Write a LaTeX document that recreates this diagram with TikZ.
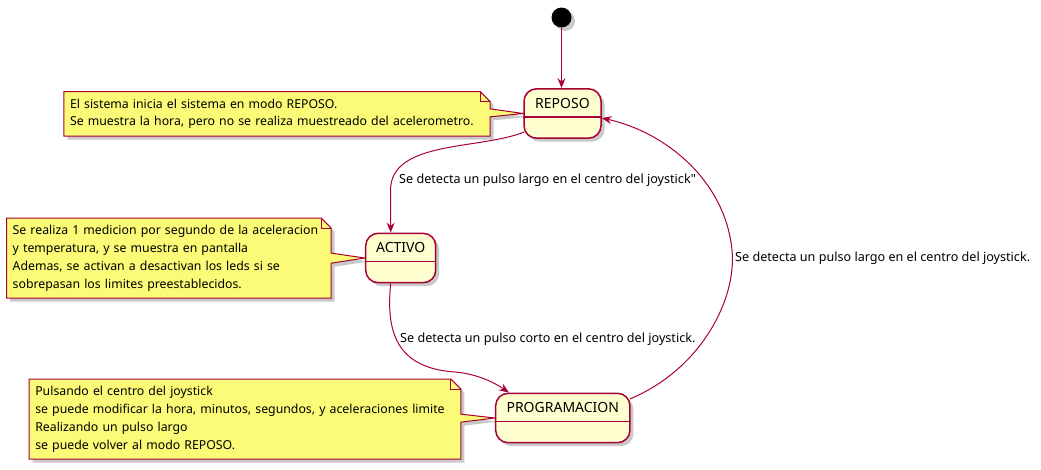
\documentclass[tikz,border=0pt]{standalone}
\usepackage{fontspec}
\setmainfont{Noto Sans}
\newfontfamily\rawqfont{Noto Sans}[Ligatures=TeXOff]
\usetikzlibrary{arrows.meta,shadows,calc}
\pgfdeclarelayer{bg}
\pgfsetlayers{bg,main}
\definecolor{edgecol}{HTML}{A80036}
\definecolor{statefill}{HTML}{FEFECE}
\definecolor{notefill}{HTML}{FBFB77}
\newcommand{\noteln}[1]{\mbox{#1}}
\begin{document}
\begin{tikzpicture}[x=1pt,y=-1pt,
  shad/.style={drop shadow={shadow xshift=3.5pt,shadow yshift=-3.5pt,opacity=0.3,fill=black!70}},
  state/.style={draw=edgecol,fill=statefill,line width=1.5pt,rounded corners=12.5pt,shad,
    minimum height=49.4pt,inner sep=0pt},
  statename/.style={font=\fontsize{14}{16}\selectfont,inner sep=0pt},
  divider/.style={draw=edgecol,line width=1.5pt},
  notetext/.style={font=\fontsize{12.3}{17.8}\selectfont,align=left,inner sep=0pt},
  noteshape/.style={draw=edgecol,fill=notefill,line width=1pt,shad,line join=miter},
  trans/.style={draw=edgecol,line width=1pt,-{Stealth[length=10pt,width=8pt,inset=3.5pt]}},
  edgelabel/.style={font=\fontsize{12.6}{16}\selectfont,inner sep=0pt,anchor=west,text height=9.5pt,text depth=3pt}
]
\useasboundingbox (0,0) rectangle (1041,469);

% initial state
\fill[black,shad] (561.5,17.5) circle (10pt);
\coordinate (init) at (561.5,27.5);

% states
\node[state,minimum width=77pt] (reposo) at (562.5,113.5) {};
\node[statename] (reposoname) at ($(reposo.north)+(0,15)$) {REPOSO};
\draw[divider] ($(reposo.north west)+(0,29)$) -- ($(reposo.north east)+(0,29)$);

\node[state,minimum width=70pt] (activo) at (400.7,258) {};
\node[statename] (activoname) at ($(activo.north)+(0,15)$) {ACTIVO};
\draw[divider] ($(activo.north west)+(0,29)$) -- ($(activo.north east)+(0,29)$);

\node[state,minimum width=134.3pt] (prog) at (562.8,418) {};
\node[statename] (progname) at ($(prog.north)+(0,15)$) {PROGRAMACION};
\draw[divider] ($(prog.north west)+(0,29)$) -- ($(prog.north east)+(0,29)$);

% notes
\node[notetext,minimum width=426pt,minimum height=44.3pt,text width=414pt] (n1) at (277,113.85)
  {\noteln{El sistema inicia el sistema en modo REPOSO.}\\\noteln{Se muestra la hora, pero no se realiza muestreado del acelerometro.}};
\node[notetext,minimum width=324.3pt,minimum height=79.7pt,text width=312.3pt] (n2) at (168.85,258.15)
  {\noteln{Se realiza 1 medicion por segundo de la aceleracion}\\\noteln{y temperatura, y se muestra en pantalla}\\\noteln{Ademas, se activan a desactivan los leds si se}\\\noteln{sobrepasan los limites preestablecidos.}};
\node[notetext,minimum width=431.4pt,minimum height=79.7pt,text width=419.4pt] (n3) at (245,419.15)
  {\noteln{Pulsando el centro del joystick}\\\noteln{se puede modificar la hora, minutos, segundos, y aceleraciones limite}\\\noteln{Realizando un pulso largo}\\\noteln{se puede volver al modo REPOSO.}};

\begin{pgfonlayer}{bg}
\foreach \n/\s/\a/\b in {n1/reposo/-5/3, n2/activo/-5/5, n3/prog/-5/3}{
  \path[noteshape] (\n.north west) -- ($(\n.north east)+(-10,0)$) -- ($(\n.north east)+(0,10)$)
    -- ($(\n.east)+(0,\a)$) -- (\s.west) -- ($(\n.east)+(0,\b)$)
    -- (\n.south east) -- (\n.south west) -- cycle;
  \draw[edgecol,line width=1pt] ($(\n.north east)+(-10,0)$) -- ($(\n.north east)+(-10,10)$) -- ($(\n.north east)+(0,10)$);
}
\end{pgfonlayer}

% transitions
\draw[trans] (init) -- (init |- reposo.north);
\draw[trans] ($(reposo.south west)+(1,-7)$) .. controls (480,150) and (391,140) .. (390.5,190) -- ($(activo.north)+(-10,0)$);
\draw[trans] ($(activo.south)+(-10,0)$) .. controls (386,330) and (395,368) .. (455,372) .. controls (478,374) and (495,383) .. ($(prog.north west)+(14,0)$);
\draw[trans] ($(prog.east)+(-1,-19)$) .. controls (700,370) and (737,300) .. (732,250) .. controls (725,180) and (665,132) .. ($(reposo.east)+(0,4.5)$);

% labels
\node[edgelabel] (l1) at (399,180) {Se detecta un pulso largo en el centro del joystick{\rawqfont"}};
\node[edgelabel] (l2) at (400,339.5) {Se detecta un pulso corto en el centro del joystick.};
\node[edgelabel] (l3) at (735,258) {Se detecta un pulso largo en el centro del joystick.};
\end{tikzpicture}
\end{document}
